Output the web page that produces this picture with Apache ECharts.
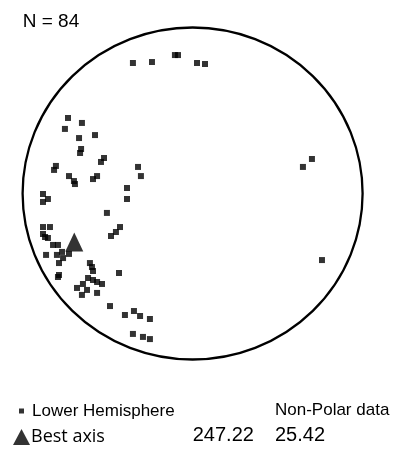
<!DOCTYPE html>
<html>
<head>
<meta charset="utf-8">
<script src="https://cdn.jsdelivr.net/npm/echarts@6/dist/echarts.min.js"></script>
<style>
html,body{margin:0;padding:0;background:#fff;}
#chart{width:398px;height:460px;}
</style>
</head>
<body>
<div id="chart"></div>
<script>
// Equal-area lower-hemisphere projection, unit circle coordinates [east, north]
const poleEast = [-0.351,-0.239,-0.104,-0.086,0.026,0.073,
  0.702,0.649,0.761,
  -0.733,-0.651,-0.751,-0.668,-0.574,-0.656,-0.662,-0.521,-0.539,-0.804,-0.815,-0.727,-0.698,-0.692,-0.586,-0.562,-0.321,-0.304,-0.386,-0.386,-0.880,-0.851,-0.880,-0.504,
  -0.880,-0.839,-0.880,-0.868,-0.851,-0.427,-0.451,-0.480,-0.821,-0.792,-0.862,-0.798,-0.768,-0.727,-0.762,-0.786,-0.786,-0.792,-0.604,-0.592,-0.586,-0.433,-0.615,-0.586,-0.562,-0.533,-0.645,-0.680,-0.621,-0.651,-0.562,-0.486,-0.398,-0.345,-0.309,-0.251,-0.351,-0.292,-0.251];
const poleNorth = [0.786,0.792,0.834,0.834,0.786,0.780,
  0.208,0.160,-0.401,
  0.455,0.425,0.389,0.334,0.352,0.268,0.244,0.214,0.190,0.166,0.142,0.105,0.075,0.057,0.087,0.105,0.160,0.105,0.033,-0.033,-0.003,-0.033,-0.051,-0.117,
  -0.202,-0.202,-0.244,-0.262,-0.268,-0.202,-0.232,-0.256,-0.310,-0.310,-0.370,-0.370,-0.352,-0.364,-0.389,-0.419,-0.491,-0.503,-0.419,-0.443,-0.467,-0.479,-0.509,-0.521,-0.533,-0.545,-0.545,-0.569,-0.581,-0.611,-0.599,-0.678,-0.732,-0.708,-0.738,-0.756,-0.846,-0.864,-0.877];
const bestAxisEast = [-0.696];
const bestAxisNorth = [-0.292];
const bestAxisTrend = '247.22';
const bestAxisPlunge = '25.42';
const sampleCount = 84;

const poles = poleEast.map((e, i) => [e, poleNorth[i]]);
const best = bestAxisEast.map((e, i) => [e, bestAxisNorth[i]]);

const chart = echarts.init(document.getElementById('chart'), null, {renderer: 'canvas'});
chart.setOption({
  animation: false,
  backgroundColor: '#ffffff',
  grid: {left: 22.6, top: 27.5, width: 340, height: 332},
  xAxis: {type: 'value', min: -1, max: 1, show: false},
  yAxis: {type: 'value', min: -1, max: 1, show: false},
  legend: [
    {data: ['Lower Hemisphere'], left: 19, top: 402.5, padding: 0, itemWidth: 5, itemHeight: 5,
     textStyle: {fontFamily: 'Liberation Sans', fontSize: 17, color: '#000', padding: [0, 0, 6, 3]}},
    {data: ['Best axis'], left: 13, top: 428, padding: 0, itemWidth: 17, itemHeight: 16,
     textStyle: {fontFamily: 'Open Sans', fontSize: 18, color: '#000', padding: [0, 0, 0, -4]}}
  ],
  graphic: [
    {type: 'text', left: 22.7, top: 12, style: {text: 'N = ' + sampleCount, font: '19px "Liberation Sans"', fill: '#000'}},
    {type: 'text', left: 275, top: 402, style: {text: 'Non-Polar data', font: '17px "Liberation Sans"', fill: '#000'}},
    {type: 'text', left: 192.7, top: 425, style: {text: bestAxisTrend, font: '20px "Liberation Sans"', fill: '#000'}},
    {type: 'text', left: 275, top: 425, style: {text: bestAxisPlunge, font: '20px "Liberation Sans"', fill: '#000'}}
  ],
  series: [
    {
      type: 'custom', silent: true, z: 1,
      data: [[0, 0]],
      renderItem: function (params, api) {
        const c = api.coord([0, 0]);
        const s = api.size([1, 1]);
        const rx = s[0], ry = s[1];
        const d = 'M' + (c[0] - rx) + ' ' + c[1] +
          ' A' + rx + ' ' + ry + ' 0 1 0 ' + (c[0] + rx) + ' ' + c[1] +
          ' A' + rx + ' ' + ry + ' 0 1 0 ' + (c[0] - rx) + ' ' + c[1] + ' Z';
        return {type: 'path', shape: {pathData: d}, style: {fill: 'none', stroke: '#000', lineWidth: 2.3}};
      }
    },
    {
      name: 'Lower Hemisphere', type: 'scatter', z: 3,
      symbol: 'rect', symbolSize: 6,
      itemStyle: {color: '#000'},
      data: poles
    },
    {
      name: 'Best axis', type: 'scatter', z: 4,
      symbol: 'triangle', symbolSize: [18, 19],
      itemStyle: {color: '#000'},
      data: best
    }
  ]
});
</script>
</body>
</html>
